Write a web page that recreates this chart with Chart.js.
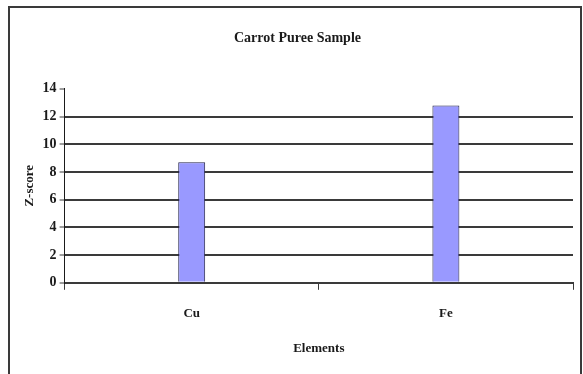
<!DOCTYPE html>
<html>
<head>
<meta charset="utf-8">
<script src="https://cdn.jsdelivr.net/npm/chart.js@4.4.1/dist/chart.umd.min.js"></script>
<style>
  html, body { margin: 0; padding: 0; background: #ffffff; }
  #wrap { position: relative; width: 583px; height: 374px; overflow: hidden; }
  #frame { position: absolute; left: 8px; top: 6px; width: 574px; height: 380px;
           border: 2px solid #3a3a3a; box-sizing: border-box; pointer-events: none; }
  canvas { position: absolute; left: 0; top: 0; }
</style>
</head>
<body>
<div id="wrap">
  <canvas id="chart" width="583" height="374"></canvas>
  <div id="frame"></div>
</div>
<script>
// Z-scores per element for the carrot puree sample
const elements = ['Cu', 'Fe'];
const zScores = [8.7, 12.8];
const yTicks = [0, 2, 4, 6, 8, 10, 12, 14];

const serif = '"Liberation Serif", "Times New Roman", serif';
const ink = '#1a1a1a';
const lineInk = '#3a3a3a';

new Chart(document.getElementById('chart'), {
  type: 'bar',
  data: {
    labels: elements,
    datasets: [{
      label: 'Z-score',
      data: zScores,
      backgroundColor: '#9999ff',
      borderColor: '#22224a',
      borderWidth: 1,
      borderSkipped: 'bottom',
      categoryPercentage: 1,
      barPercentage: 0.106
    }]
  },
  options: {
    responsive: false,
    animation: false,
    devicePixelRatio: 1,
    layout: { padding: { left: 22, right: 10, top: 30, bottom: 18 } },
    plugins: {
      legend: { display: false },
      tooltip: { enabled: false },
      title: {
        display: true,
        text: 'Carrot Puree Sample',
        color: ink,
        font: { family: serif, size: 14, weight: 'bold' },
        padding: { top: 0, bottom: 42 }
      }
    },
    scales: {
      x: {
        offset: true,
        grid: {
          offset: true,
          drawOnChartArea: false,
          drawTicks: true,
          tickLength: 7,
          tickColor: lineInk,
          tickWidth: 1
        },
        border: { display: true, color: lineInk, width: 2 },
        ticks: {
          color: ink,
          padding: 16,
          font: { family: serif, size: 13, weight: 'bold' }
        },
        title: {
          display: true,
          text: 'Elements',
          color: ink,
          font: { family: serif, size: 13, weight: 'bold' },
          padding: { top: 3, bottom: 0 }
        }
      },
      y: {
        min: 0,
        max: 14,
        afterBuildTicks: (axis) => { axis.ticks = yTicks.map(v => ({ value: v })); },
        grid: {
          color: (ctx) => (ctx.tick && (ctx.tick.value === 14 || ctx.tick.value === 0)) ? 'rgba(0,0,0,0)' : lineInk,
          lineWidth: 2,
          tickColor: lineInk,
          tickWidth: 1,
          tickLength: 5,
          drawTicks: true
        },
        border: { display: true, color: ink, width: 1 },
        ticks: {
          color: ink,
          padding: 3,
          font: { family: serif, size: 14, weight: 'bold' }
        },
        title: {
          display: true,
          text: 'Z-score',
          color: ink,
          font: { family: serif, size: 13, weight: 'bold' },
          padding: { top: 0, bottom: 2 }
        }
      }
    }
  }
});
</script>
</body>
</html>
